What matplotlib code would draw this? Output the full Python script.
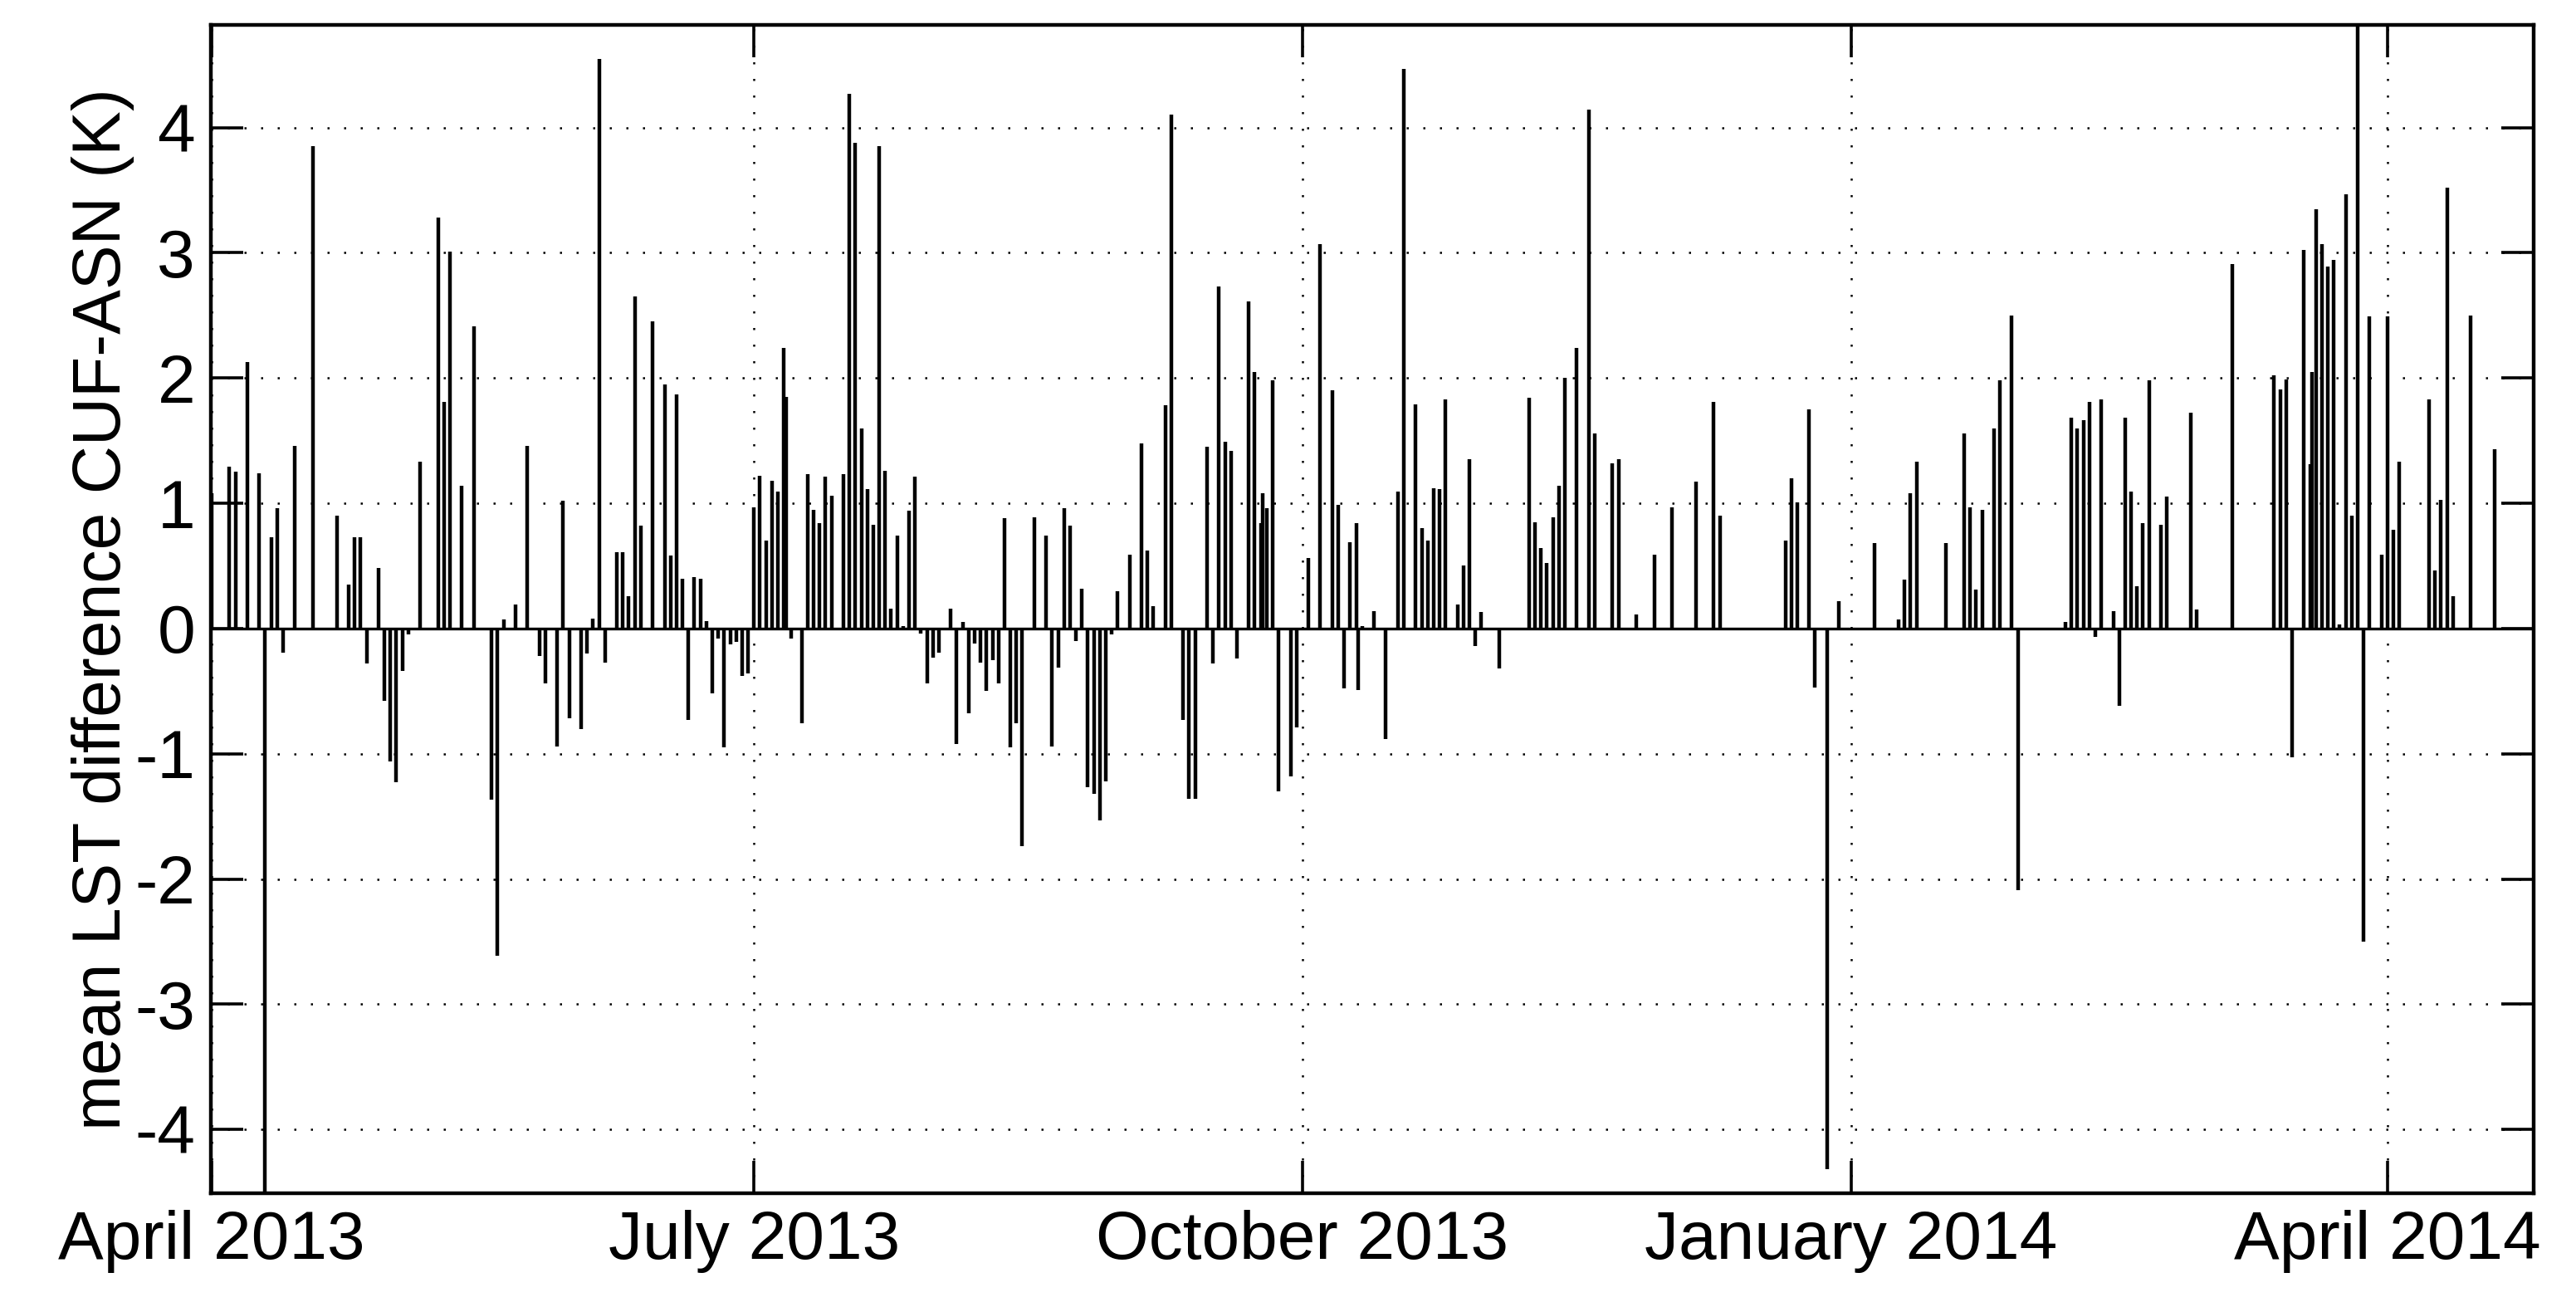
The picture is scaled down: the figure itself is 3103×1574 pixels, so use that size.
import numpy as np
import matplotlib
matplotlib.use("Agg")
import matplotlib.pyplot as plt
import datetime as dt

# day offsets since 2013-04-01 and mean LST difference values (K)
days = [0, 3, 4, 6, 8, 9, 10, 11, 12, 14, 17, 21, 23, 24, 25, 26, 28, 29, 30, 31, 32, 33,
        35, 38, 39, 40, 42, 44, 47, 48, 49, 51, 53, 55, 56, 58, 59, 60, 62, 63, 64, 65,
        66, 68, 69, 70, 71, 72, 74, 76, 77, 78, 79, 80, 81, 82, 83, 84, 85, 86, 87, 88,
        89, 90, 91, 92, 93, 94, 95, 96, 96.4, 97.2, 99, 100, 101, 102, 103, 104, 106,
        107, 108, 109, 110, 111, 112, 113, 114, 115, 116, 117, 118, 119, 120, 121, 122,
        124, 125, 126, 127, 128, 129, 130, 131, 132, 133, 134, 135, 136, 138, 140, 141,
        142, 143, 144, 145, 146, 147, 148, 149, 150, 151, 152, 154, 156, 157, 158, 160,
        161, 163, 164, 165, 167, 168, 169, 170, 171, 172, 174, 175, 176, 176.3, 177,
        178, 179, 181, 182, 184, 186, 188, 189, 190, 191, 192, 192.3, 193, 195,
        197, 199, 200, 202, 203, 204, 205, 206, 207, 209, 210, 211, 212, 213, 216, 221,
        222, 223, 224, 225, 226, 227, 229, 231, 232, 235, 236, 239, 242, 245, 249, 252,
        253, 264, 265, 266, 268, 269, 271, 273, 279, 283, 284, 285, 286, 291, 294, 295,
        296, 297, 299, 300, 302, 303, 311, 312, 313, 314, 315, 316, 317, 319, 320, 321,
        322, 323, 324, 325, 327, 328, 332, 333, 339, 346, 347, 348, 349, 351, 352,
        352.3, 353, 354, 355, 356, 357, 358, 359, 360, 361, 362, 364, 365, 366, 367,
        372, 373, 374, 375, 376, 379, 383]
values = [1.08, 1.29, 1.25, 2.13, 1.24, -4.7, 0.73, 0.96, -0.19, 1.46, 3.85, 0.90, 0.35,
          0.73, 0.73, -0.28, 0.48, -0.58, -1.06, -1.23, -0.34, -0.05, 1.33, 3.28, 1.81,
          3.01, 1.14, 2.41, -1.37, -2.61, 0.07, 0.19, 1.46, -0.22, -0.44, -0.94, 1.02,
          -0.72, -0.80, -0.20, 0.08, 4.55, -0.27, 0.61, 0.61, 0.26, 2.65, 0.82, 2.45,
          1.95, 0.58, 1.87, 0.40, -0.73, 0.41, 0.40, 0.06, -0.52, -0.08, -0.95, -0.13,
          -0.11, -0.38, -0.36, 0.97, 1.22, 0.70, 1.18, 1.09, 2.24, 1.85, -0.08, -0.76,
          1.23, 0.95, 0.84, 1.21, 1.06, 1.23, 4.27, 3.88, 1.60, 1.11, 0.83, 3.85, 1.26,
          0.16, 0.74, 0.02, 0.94, 1.21, -0.04, -0.44, -0.23, -0.19, 0.16, -0.92, 0.05,
          -0.68, -0.12, -0.27, -0.50, -0.25, -0.44, 0.88, -0.95, -0.76, -1.74, 0.89, 0.74,
          -0.94, -0.31, 0.96, 0.82, -0.10, 0.32, -1.27, -1.32, -1.53, -1.22, -0.05, 0.30,
          0.59, 1.48, 0.62, 0.18, 1.78, 4.10, -0.73, -1.36, -1.36, 1.45, -0.28, 2.73,
          1.49, 1.42, -0.24, 2.61, 2.05, 0.84, 1.08, 0.96, 1.98, -1.30, -1.18, -0.79,
          0.56, 3.07, 1.90, 0.99, -0.48, 0.69, 0.84, -0.49, 0.02, 0.14,
          -0.88, 1.09, 4.47, 1.79, 0.80, 0.70, 1.12, 1.11, 1.83, 0.19, 0.50, 1.35, -0.14,
          0.13, -0.32, 1.84, 0.85, 0.64, 0.52, 0.89, 1.14, 2.00, 2.24, 4.14, 1.56, 1.32,
          1.35, 0.11, 0.59, 0.97, 1.17, 1.81, 0.90, 0.70, 1.20, 1.01, 1.75, -0.47, -4.32,
          0.22, 0.68, 0.07, 0.39, 1.08, 1.33, 0.68, 1.56, 0.97, 0.31, 0.95, 1.60, 1.98,
          2.50, -2.09, 0.05, 1.68, 1.60, 1.66, 1.81, -0.07, 1.83, 0.14, -0.62, 1.68, 1.09,
          0.34, 0.84, 1.98, 0.83, 1.05, 1.72, 0.15, 2.91, 2.02, 1.91, 1.99, -1.03, 3.02,
          1.31, 2.05, 3.35, 3.07, 2.89, 2.94, 0.03, 3.47, 0.90, 5.2, -2.50, 2.49, 0.59,
          2.49, 0.79, 1.33, 1.83, 0.46, 1.03, 3.52, 0.26, 2.50, 1.43]

tick_dates = [dt.datetime(2013, 4, 1), dt.datetime(2013, 7, 1), dt.datetime(2013, 10, 1),
              dt.datetime(2014, 1, 1), dt.datetime(2014, 4, 1)]
tick_labels = ["April 2013", "July 2013", "October 2013", "January 2014", "April 2014"]
yticks = [-4, -3, -2, -1, 0, 1, 2, 3, 4]

base = dt.datetime(2013, 4, 1)
x = [base + dt.timedelta(days=float(d)) for d in days]

plt.rcParams['font.family'] = ['Liberation Sans', 'DejaVu Sans']
plt.rcParams['axes.unicode_minus'] = False
fig = plt.figure(figsize=(15.515, 7.87), dpi=200)
ax = fig.add_axes([0.082, 0.087, 0.9015, 0.894])
ax.vlines(x, 0, values, color='black', linewidth=1.6)
ax.axhline(0, color='black', linewidth=1.2)
ax.set_xlim(base - dt.timedelta(days=0.05), base + dt.timedelta(days=389.5))
ax.set_ylim(-4.51, 4.82)
ax.set_xticks(tick_dates)
ax.set_xticklabels(tick_labels)
ax.set_yticks(yticks)
ax.grid(True, color='black', linestyle=(0, (1, 7)), linewidth=0.9)
ax.tick_params(direction='in', length=14, width=1.3, top=True, right=True, labelsize=29.5, pad=7)
for s in ax.spines.values():
    s.set_linewidth(1.6)
ax.set_ylabel("mean LST difference CUF-ASN (K)", fontsize=29, labelpad=0)
fig.savefig("out.png", dpi=200)
